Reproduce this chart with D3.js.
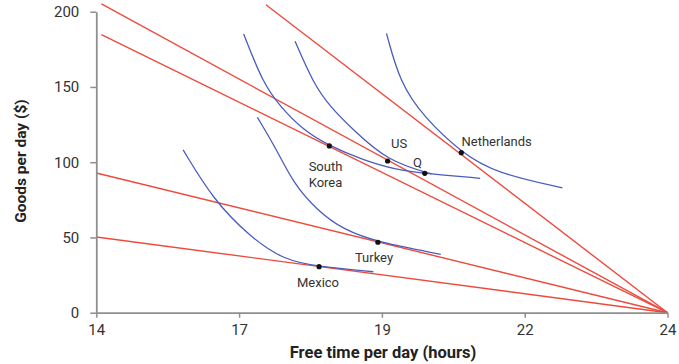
<!DOCTYPE html>
<html>
<head>
<meta charset="utf-8">
<script src="https://cdn.jsdelivr.net/npm/d3@7"></script>
<style>
  body { margin: 0; background: #fff; }
  svg { font-family: Roboto, "Noto Sans", sans-serif; }
</style>
</head>
<body>
<svg width="679" height="364"></svg>
<script>
// budget lines: wage (goods per hour of work), all end at 24 hours free time / 0 goods
const countries = ['Netherlands', 'US', 'South Korea', 'Turkey', 'Mexico'];
const wages = [29.1, 20.7, 18.65, 9.28, 5.03];
const lineStart = [16.97, 14.09, 14.09, 14, 14]; // free hours where each red line begins

// indifference curves: [free time, goods]
const curveNL = [[19.08, 185.6], [19.32, 152.4], [19.73, 130.2], [20.39, 106.3], [21.01, 92.6], [22.16, 83.0]];
const curveUS = [[17.48, 180.3], [17.80, 152.4], [18.09, 137.0], [18.50, 121.4], [19.10, 100.8], [19.87, 92.2]];
const curveSK = [[16.58, 185.2], [16.92, 152.4], [17.22, 137.0], [17.62, 121.4], [18.08, 110.8], [18.67, 101.5], [19.26, 94.9], [19.75, 92.6], [20.72, 89.3]];
const curveTR = [[16.82, 129.8], [17.16, 108.2], [17.45, 86.0], [17.86, 68.2], [18.33, 55.0], [18.93, 46.8], [20.03, 38.8]];
const curveMX = [[15.52, 108.2], [16.05, 74.9], [16.69, 50.5], [17.28, 35.0], [17.90, 30.6], [18.85, 27.2]];

// chosen points
const pointNames = ['Netherlands', 'US', 'Q', 'South Korea', 'Turkey', 'Mexico'];
const pointHours = [20.39, 19.10, 19.75, 18.08, 18.93, 17.90];
const pointGoods = [106.3, 100.8, 92.6, 110.8, 46.8, 30.6];

const xTicks = [14, 16.5, 19, 21.5, 24];
const xTickLabels = ['14', '17', '19', '22', '24'];
const yTicks = [0, 50, 100, 150, 200];

const svg = d3.select('svg');
const x = d3.scaleLinear().domain([14, 24]).range([96.3, 667.5]);
const y = d3.scaleLinear().domain([0, 200]).range([312.7, 11.7]);

const red = '#ee4a3c', blue = '#4a5cbc', axisGrey = '#8f8f8f';

// red budget lines
svg.selectAll('.budget')
  .data(wages)
  .enter()
  .append('line')
  .attr('x1', (w, i) => x(lineStart[i]))
  .attr('y1', (w, i) => y(w * (24 - lineStart[i])))
  .attr('x2', x(24))
  .attr('y2', y(0))
  .attr('stroke', red)
  .attr('stroke-width', 1.4);

// blue indifference curves (smoothed through the read-off points)
const curveLine = d3.line().x(d => x(d[0])).y(d => y(d[1])).curve(d3.curveBasis);
svg.selectAll('.ic')
  .data([curveNL, curveUS, curveSK, curveTR, curveMX])
  .enter()
  .append('path')
  .attr('d', curveLine)
  .attr('fill', 'none')
  .attr('stroke', blue)
  .attr('stroke-width', 1.3);

// axes
const xAxis = svg.append('g')
  .attr('transform', `translate(0,${y(0)})`)
  .call(d3.axisBottom(x).tickValues(xTicks).tickFormat((d, i) => xTickLabels[i]).tickSize(5).tickPadding(7).tickSizeOuter(0));
const yAxis = svg.append('g')
  .attr('transform', `translate(${x(14)},0)`)
  .call(d3.axisLeft(y).tickValues(yTicks).tickSize(6).tickPadding(11).tickSizeOuter(0));
[xAxis, yAxis].forEach(ax => {
  ax.select('.domain').attr('stroke', axisGrey).attr('stroke-width', 1.8);
  ax.selectAll('.tick line').attr('stroke', axisGrey).attr('stroke-width', 1.5);
  ax.selectAll('.tick text').attr('fill', '#333').style('font-size', '15px').style('font-family', 'Roboto, sans-serif');
});

// points
svg.selectAll('.pt')
  .data(pointNames)
  .enter()
  .append('circle')
  .attr('cx', (d, i) => x(pointHours[i]))
  .attr('cy', (d, i) => y(pointGoods[i]))
  .attr('r', 2.6)
  .attr('fill', '#111');

// point labels
const labels = [
  {t: ['Netherlands'], x: 461.5, y: 146, a: 'start'},
  {t: ['US'], x: 391, y: 148, a: 'start'},
  {t: ['Q'], x: 413, y: 167, a: 'start'},
  {t: ['South', 'Korea'], x: 325.5, y: 171, a: 'middle'},
  {t: ['Turkey'], x: 374, y: 262, a: 'middle'},
  {t: ['Mexico'], x: 318, y: 287, a: 'middle'}
];
labels.forEach(l => {
  const txt = svg.append('text')
    .attr('x', l.x).attr('y', l.y)
    .attr('text-anchor', l.a)
    .attr('fill', '#333')
    .style('font-size', '13px');
  l.t.forEach((s, j) => txt.append('tspan').attr('x', l.x).attr('dy', j ? 16 : 0).text(s));
});

// axis titles
svg.append('text')
  .attr('x', 383).attr('y', 358)
  .attr('text-anchor', 'middle')
  .attr('fill', '#222')
  .style('font-size', '16.5px').style('font-weight', 'bold')
  .text('Free time per day (hours)');
svg.append('text')
  .attr('transform', 'translate(26,161) rotate(-90)')
  .attr('text-anchor', 'middle')
  .attr('fill', '#222')
  .style('font-size', '15.5px').style('font-weight', 'bold')
  .text('Goods per day ($)');
</script>
</body>
</html>
